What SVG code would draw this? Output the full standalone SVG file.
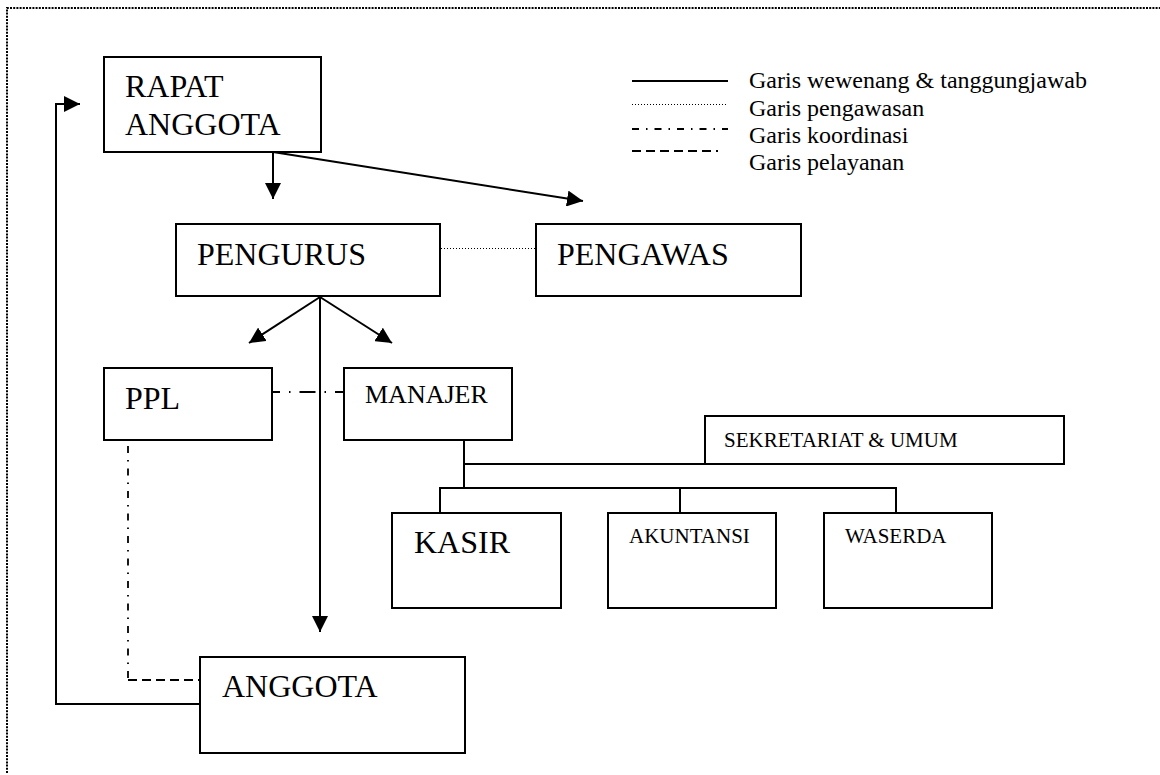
<svg xmlns="http://www.w3.org/2000/svg" width="1160" height="775" viewBox="0 0 1160 775">
  <style>
    .box { fill: #fff; stroke: #000; stroke-width: 2; }
    .lbl { font-family: "Liberation Serif", "Times New Roman", serif; fill: #000; }
    .big { font-size: 32px; }
    .mid { font-size: 26px; }
    .sm { font-size: 21px; }
    .leg { font-size: 24px; }
    .solid { fill: none; stroke: #000; stroke-width: 2; }
    .dot { fill: none; stroke: #000; stroke-width: 1; stroke-dasharray: 1 2; }
    .dashdot { fill: none; stroke: #000; stroke-width: 1.8; stroke-dasharray: 7 7 1.5 7; }
    .dash { fill: none; stroke: #000; stroke-width: 1.8; stroke-dasharray: 9 5; }
    .frame { fill: none; stroke: #000; stroke-width: 2; stroke-dasharray: 2 1.2; }
  </style>
  <defs>
    <marker id="arrow" viewBox="0 0 16 16" markerUnits="userSpaceOnUse" markerWidth="16" markerHeight="16" refX="16" refY="8" orient="auto">
      <path d="M0,0 L16,8 L0,16 Z" fill="#000"/>
    </marker>
  </defs>

  <rect width="1160" height="775" fill="#fff"/>

  <!-- page frame -->
  <path class="frame" d="M7,773 V8 H1160"/>

  <!-- legend -->
  <g id="legend">
    <line class="solid" x1="632" y1="81" x2="728" y2="81"/>
    <line class="dot" x1="632" y1="104.5" x2="726" y2="104.5"/>
    <line class="dashdot" x1="632" y1="129" x2="728" y2="129"/>
    <line class="dash" x1="632" y1="151" x2="718" y2="151"/>
    <text class="lbl leg" x="749" y="88">Garis wewenang &amp; tanggungjawab</text>
    <text class="lbl leg" x="749" y="116">Garis pengawasan</text>
    <text class="lbl leg" x="749" y="143">Garis koordinasi</text>
    <text class="lbl leg" x="749" y="170">Garis pelayanan</text>
  </g>

  <!-- connectors -->
  <g id="connectors">
    <!-- authority lines -->
    <path class="solid" d="M273,152 V199" marker-end="url(#arrow)"/>
    <path class="solid" d="M273,152 L583,201" marker-end="url(#arrow)"/>
    <path class="solid" d="M320,297 L249,343" marker-end="url(#arrow)"/>
    <path class="solid" d="M320,297 L392,343" marker-end="url(#arrow)"/>
    <path class="solid" d="M320,297 V632" marker-end="url(#arrow)"/>
    <path class="solid" d="M200,704 H56 V104 H80" marker-end="url(#arrow)"/>
    <!-- manager branches -->
    <path class="solid" d="M464,440 V488"/>
    <path class="solid" d="M464,464 H705"/>
    <path class="solid" d="M440,513 V488 H896 V513"/>
    <path class="solid" d="M680,488 V513"/>
    <!-- supervision -->
    <line class="dot" x1="441" y1="248.5" x2="536" y2="248.5"/>
    <!-- coordination -->
    <line fill="none" stroke="#000" stroke-width="1.8" stroke-dasharray="16 9 1.5 9" stroke-dashoffset="8" x1="272" y1="392" x2="344" y2="392"/>
    <path class="dashdot" d="M128,446 V680"/>
    <!-- service -->
    <path class="dash" d="M128,680 H200"/>
  </g>

  <!-- nodes -->
  <g id="rapat-anggota">
    <rect class="box" x="104" y="57" width="217" height="95"/>
    <text class="lbl big" x="125" y="97">RAPAT</text>
    <text class="lbl big" x="125" y="135">ANGGOTA</text>
  </g>
  <g id="pengurus">
    <rect class="box" x="176" y="224" width="264" height="72"/>
    <text class="lbl big" x="197" y="265">PENGURUS</text>
  </g>
  <g id="pengawas">
    <rect class="box" x="536" y="224" width="265" height="72"/>
    <text class="lbl big" x="557" y="265">PENGAWAS</text>
  </g>
  <g id="ppl">
    <rect class="box" x="104" y="368" width="168" height="72"/>
    <text class="lbl big" x="125" y="409">PPL</text>
  </g>
  <g id="manajer">
    <rect class="box" x="344" y="368" width="168" height="72"/>
    <text class="lbl mid" x="365" y="403">MANAJER</text>
  </g>
  <g id="sekretariat">
    <rect class="box" x="705" y="416" width="359" height="48"/>
    <text class="lbl sm" x="724" y="447">SEKRETARIAT &amp; UMUM</text>
  </g>
  <g id="kasir">
    <rect class="box" x="392" y="513" width="169" height="95"/>
    <text class="lbl big" x="414" y="553">KASIR</text>
  </g>
  <g id="akuntansi">
    <rect class="box" x="608" y="513" width="168" height="95"/>
    <text class="lbl sm" x="629" y="543">AKUNTANSI</text>
  </g>
  <g id="waserda">
    <rect class="box" x="824" y="513" width="168" height="95"/>
    <text class="lbl sm" x="845" y="543">WASERDA</text>
  </g>
  <g id="anggota">
    <rect class="box" x="200" y="657" width="265" height="96"/>
    <text class="lbl big" x="222" y="697">ANGGOTA</text>
  </g>
</svg>
